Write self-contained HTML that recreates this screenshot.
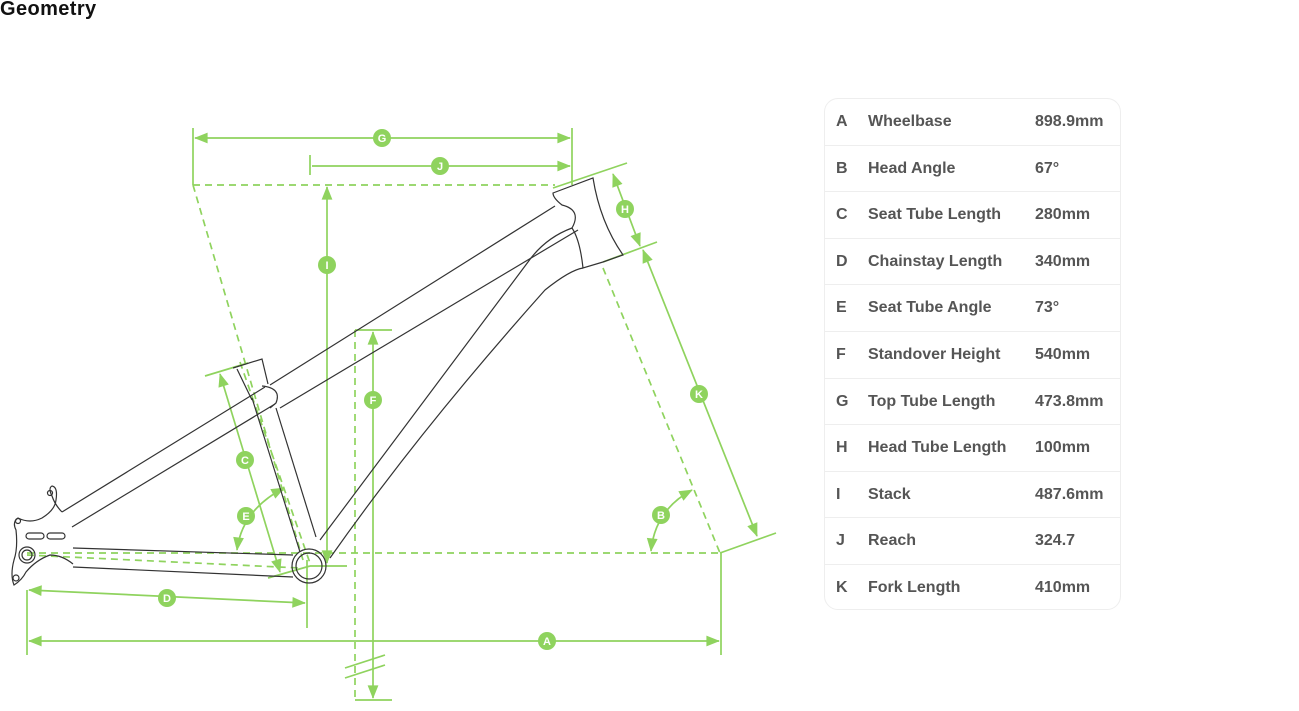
<!DOCTYPE html>
<html><head><meta charset="utf-8"><style>
html,body{margin:0;padding:0;background:#fff;width:1299px;height:711px;overflow:hidden;font-family:"Liberation Sans",sans-serif}
h1{position:absolute;left:0;top:-2px;margin:0;font-size:20px;font-weight:bold;color:#111;letter-spacing:0.4px}
.tbl{position:absolute;left:824px;top:98px;width:297px;height:512px;border:1px solid #eee;border-radius:14px;box-sizing:border-box}
.row{position:absolute;left:0;width:295px;height:46.6px;border-bottom:1px solid #eee;font-size:16px;font-weight:bold;color:#555;box-sizing:border-box}
.row span{position:absolute;top:14px}
.row .l{left:11px}.row .n{left:43px}.row .v{left:210px}
svg{position:absolute;left:0;top:0}
</style></head><body>
<h1>Geometry</h1>
<svg width="1299" height="711" viewBox="0 0 1299 711">
<defs>
<marker id="ar" viewBox="0 0 10 10" refX="10" refY="5" markerWidth="9" markerHeight="9" orient="auto-start-reverse" markerUnits="userSpaceOnUse" style="overflow:visible">
<path d="M-4,-1 L11,5 L-4,11 z" fill="#8fd35e"/></marker>
</defs>
<g stroke="#8fd35e" stroke-width="1.7" fill="none">
<g stroke-dasharray="7,5">
<line x1="193" y1="185" x2="555" y2="185"/>
<line x1="193" y1="185" x2="303" y2="560"/>
<line x1="240" y1="362" x2="311" y2="566"/>
<line x1="27" y1="553" x2="720" y2="553"/>
<line x1="603" y1="268" x2="720" y2="553"/>
<line x1="355" y1="330" x2="355" y2="700"/>
<line x1="27" y1="555" x2="300" y2="568"/>
</g>
<line x1="193" y1="128" x2="193" y2="185"/>
<line x1="572" y1="128" x2="572" y2="185"/>
<line x1="310" y1="155" x2="310" y2="175"/>
<line x1="355" y1="330" x2="392" y2="330"/>
<line x1="355" y1="700" x2="392" y2="700"/>
<line x1="345" y1="668" x2="385" y2="655"/>
<line x1="345" y1="678" x2="385" y2="665"/>
<line x1="27" y1="590" x2="27" y2="655"/>
<line x1="721" y1="553" x2="721" y2="655"/>
<line x1="307" y1="560" x2="307" y2="628"/>
<line x1="553" y1="188" x2="627" y2="163"/>
<line x1="603" y1="262" x2="657" y2="242"/>
<line x1="720" y1="553" x2="776" y2="533"/>
<line x1="205" y1="376" x2="248" y2="363"/>
<line x1="268" y1="578" x2="310" y2="566"/>
<line x1="310" y1="566" x2="347" y2="566"/>
<line x1="195" y1="138" x2="570" y2="138" marker-start="url(#ar)" marker-end="url(#ar)"/>
<line x1="312" y1="166" x2="570" y2="166" marker-end="url(#ar)"/>
<line x1="327" y1="187" x2="327" y2="563" marker-start="url(#ar)" marker-end="url(#ar)"/>
<line x1="373" y1="332" x2="373" y2="698" marker-start="url(#ar)" marker-end="url(#ar)"/>
<line x1="29" y1="641" x2="719" y2="641" marker-start="url(#ar)" marker-end="url(#ar)"/>
<line x1="29" y1="590" x2="305" y2="603" marker-start="url(#ar)" marker-end="url(#ar)"/>
<line x1="613" y1="174" x2="640" y2="246" marker-start="url(#ar)" marker-end="url(#ar)"/>
<line x1="643" y1="250" x2="757" y2="536" marker-start="url(#ar)" marker-end="url(#ar)"/>
<line x1="220" y1="374" x2="280" y2="572" marker-start="url(#ar)" marker-end="url(#ar)"/>
<path d="M237,550 Q242,510 284,488" marker-start="url(#ar)" marker-end="url(#ar)"/>
<path d="M651,551 Q655,510 692,490" marker-start="url(#ar)" marker-end="url(#ar)"/>
</g>
<g font-family="Liberation Sans,sans-serif" font-size="11" font-weight="bold" fill="#fff" text-anchor="middle">
<g fill="#8fd35e">
<circle cx="382" cy="138" r="9"/><circle cx="440" cy="166" r="9"/><circle cx="327" cy="265" r="9"/>
<circle cx="373" cy="400" r="9"/><circle cx="547" cy="641" r="9"/><circle cx="167" cy="598" r="9"/>
<circle cx="625" cy="209" r="9"/><circle cx="699" cy="394" r="9"/><circle cx="245" cy="460" r="9"/>
<circle cx="246" cy="516" r="9"/><circle cx="661" cy="515" r="9"/></g>
<text x="382" y="142">G</text><text x="440" y="170">J</text><text x="327" y="269">I</text>
<text x="373" y="404">F</text><text x="547" y="645">A</text><text x="167" y="602">D</text>
<text x="625" y="213">H</text><text x="699" y="398">K</text><text x="245" y="464">C</text>
<text x="246" y="520">E</text><text x="661" y="519">B</text>
</g>
<g stroke="#333" stroke-width="1.2" fill="none">
<line x1="270" y1="385" x2="555" y2="206"/>
<line x1="280" y1="408" x2="578" y2="230"/>
<path d="M553,193 L593,178 Q600,222 623,255 L603,262 L583,268 Q580,240 572,228 Q582,210 562,205 Q553,198 553,193z"/>
<path d="M320,540 L528,262 Q545,238 572,228"/>
<path d="M330,558 Q420,430 545,290 Q570,270 583,268"/>
<path d="M233,368 L262,359 L268,384"/>
<line x1="237" y1="369" x2="252" y2="400"/>
<line x1="252" y1="398" x2="300" y2="552"/>
<line x1="276" y1="408" x2="316" y2="537"/>
<path d="M262,386 Q282,388 276,403 L270,408"/>
<line x1="62" y1="512" x2="265" y2="387"/>
<line x1="72" y1="527" x2="275" y2="404"/>
<line x1="73" y1="548" x2="293" y2="555"/>
<line x1="73" y1="567" x2="293" y2="577"/>
<circle cx="309" cy="566" r="17"/><circle cx="309" cy="566" r="13"/>
<path d="M62,512 Q55,505 52,496 Q48,488 52,486 Q58,487 56,500 Q55,510 42,518 Q30,524 18,518 Q12,522 16,530 Q18,548 14,560 Q10,575 14,585 Q22,580 26,572 Q36,560 50,555 Q62,555 73,564"/>
<circle cx="27" cy="555" r="8"/><circle cx="27" cy="555" r="5"/>
<circle cx="50" cy="493" r="2.5"/><circle cx="18" cy="521" r="2.5"/><circle cx="16" cy="578" r="3"/>
<rect x="26" y="533" width="18" height="6" rx="3"/><rect x="47" y="533" width="18" height="6" rx="3"/>
</g>
</svg>
<div class="tbl">
<div class="row" style="top:0"><span class="l">A</span><span class="n">Wheelbase</span><span class="v">898.9mm</span></div>
<div class="row" style="top:46.6px"><span class="l">B</span><span class="n">Head Angle</span><span class="v">67°</span></div>
<div class="row" style="top:93.2px"><span class="l">C</span><span class="n">Seat Tube Length</span><span class="v">280mm</span></div>
<div class="row" style="top:139.8px"><span class="l">D</span><span class="n">Chainstay Length</span><span class="v">340mm</span></div>
<div class="row" style="top:186.4px"><span class="l">E</span><span class="n">Seat Tube Angle</span><span class="v">73°</span></div>
<div class="row" style="top:233px"><span class="l">F</span><span class="n">Standover Height</span><span class="v">540mm</span></div>
<div class="row" style="top:279.6px"><span class="l">G</span><span class="n">Top Tube Length</span><span class="v">473.8mm</span></div>
<div class="row" style="top:326.2px"><span class="l">H</span><span class="n">Head Tube Length</span><span class="v">100mm</span></div>
<div class="row" style="top:372.8px"><span class="l">I</span><span class="n">Stack</span><span class="v">487.6mm</span></div>
<div class="row" style="top:419.4px"><span class="l">J</span><span class="n">Reach</span><span class="v">324.7</span></div>
<div class="row" style="top:466px;border-bottom:none"><span class="l">K</span><span class="n">Fork Length</span><span class="v">410mm</span></div>
</div>
</body></html>
